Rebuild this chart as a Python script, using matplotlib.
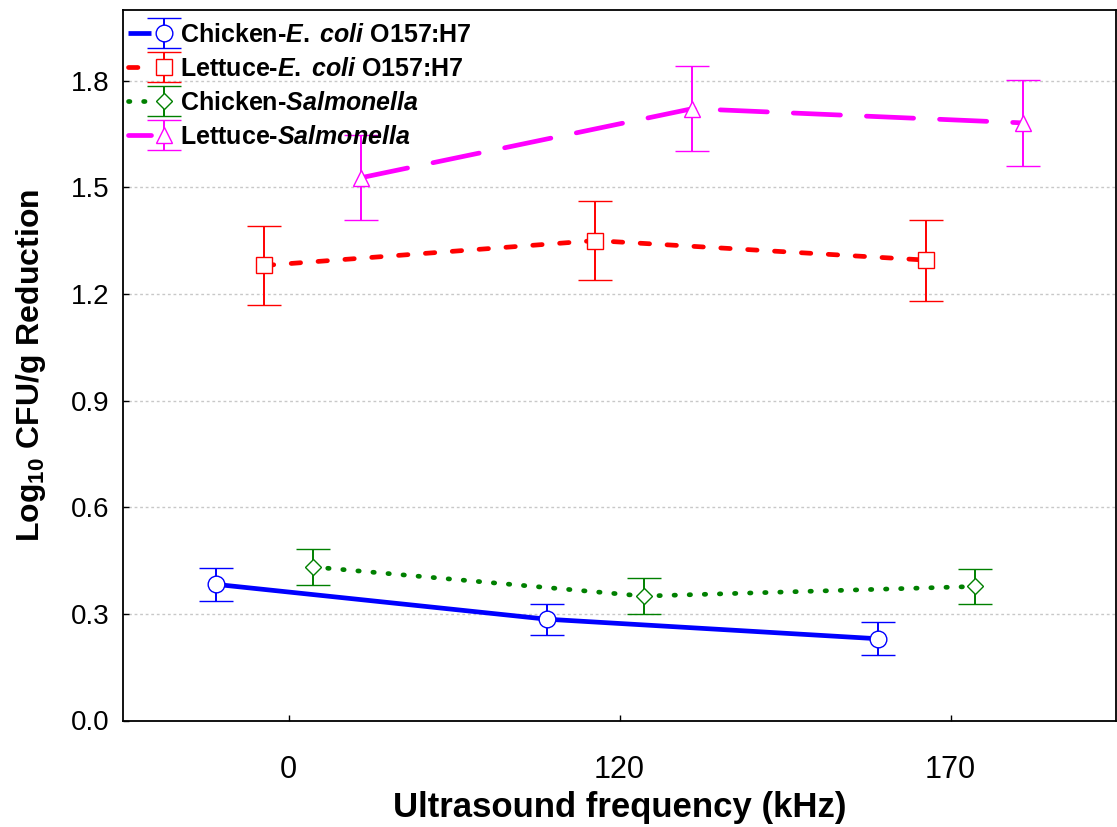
import numpy as np
import matplotlib.pyplot as plt
from matplotlib.container import ErrorbarContainer
from matplotlib.legend_handler import HandlerTuple, HandlerErrorbar

plt.rcParams['font.family'] = ['Liberation Sans', 'DejaVu Sans']
plt.rcParams['mathtext.fontset'] = 'custom'
plt.rcParams['mathtext.rm'] = 'Liberation Sans:bold'
plt.rcParams['mathtext.bf'] = 'Liberation Sans:bold'
plt.rcParams['mathtext.it'] = 'Liberation Sans:italic:bold'

# ultrasound treatments (categorical x axis)
frequencies = ['0', '120', '170']

# mean log reductions and error bar half-widths
chicken_ecoli = [0.383, 0.285, 0.230]
chicken_ecoli_err = [0.047, 0.044, 0.047]
lettuce_ecoli = [1.280, 1.350, 1.295]
lettuce_ecoli_err = [0.110, 0.110, 0.114]
chicken_salm = [0.432, 0.350, 0.377]
chicken_salm_err = [0.050, 0.050, 0.050]
lettuce_salm = [1.527, 1.721, 1.681]
lettuce_salm_err = [0.120, 0.119, 0.120]

series = [
    (r'Chicken-$\mathit{E.\;coli}$ O157:H7', chicken_ecoli, chicken_ecoli_err,
     '#0000ff', 'o', 12, '-', -0.22),
    (r'Lettuce-$\mathit{E.\;coli}$ O157:H7', lettuce_ecoli, lettuce_ecoli_err,
     '#ff0000', 's', 12, (0, (2.0, 3.7)), -0.073),
    (r'Chicken-$\mathit{Salmonella}$', chicken_salm, chicken_salm_err,
     '#008000', 'D', 8, (0, (0.3, 2.9)), 0.073),
    (r'Lettuce-$\mathit{Salmonella}$', lettuce_salm, lettuce_salm_err,
     '#ff00ff', '^', 11, (0, (10.0, 5.5)), 0.22),
]

fig = plt.figure(figsize=(11.17, 8.27), dpi=100)
ax = fig.add_axes([123 / 1117, 1 - 720.5 / 827, 993 / 1117, 711 / 827])

base = np.arange(len(frequencies))
handles = []
labels = []
for label, vals, errs, color, marker, ms, ls, offset in series:
    x = base + offset
    line, = ax.plot(x, vals, color=color, lw=3.4, linestyle=ls,
                    dash_capstyle='round', solid_capstyle='butt', zorder=2)
    eb = ax.errorbar(x, vals, yerr=errs, fmt=marker, ms=ms, mfc='white',
                     mec=color, mew=1.0, ecolor=color, elinewidth=1.4,
                     capsize=12.5, capthick=1.7, zorder=3)
    handles.append((line, eb))
    labels.append(label)

ax.set_xlim(-0.5, 2.5)
ax.set_ylim(0, 2.0)
ax.set_xticks(base)
ax.set_xticklabels(frequencies, fontsize=22)
yticks = np.arange(0, 1.81, 0.3)
ax.set_yticks(yticks)
ax.set_yticklabels([f'{v:.1f}' for v in yticks], fontsize=20)
ax.tick_params(direction='in', length=4, width=1, pad=10)
ax.tick_params(axis='x', pad=25)

for v in yticks[1:]:
    ax.axhline(v, color='#c8c8c8', lw=1, linestyle=(0, (2, 2)), zorder=0)

for sp in ax.spines.values():
    sp.set_linewidth(1.3)

ax.set_xlabel('Ultrasound frequency (kHz)', fontsize=25, fontweight='bold', labelpad=4)
ax.set_ylabel(r'Log$_{\mathbf{10}}$ CFU/g Reduction', fontsize=23, fontweight='bold',
              labelpad=16)

hmap = {tuple: HandlerTuple(ndivide=None),
        ErrorbarContainer: HandlerErrorbar(yerr_size=0.6)}
leg = ax.legend(handles, labels, handler_map=hmap,
                loc='upper left', bbox_to_anchor=(0, 1 - 8 / 711), frameon=False,
                borderaxespad=0.1, borderpad=0.1, handlelength=1.9,
                handletextpad=0.2, labelspacing=0.4,
                prop={'size': 18, 'weight': 'bold'})

fig.savefig('out.png', dpi=100)
